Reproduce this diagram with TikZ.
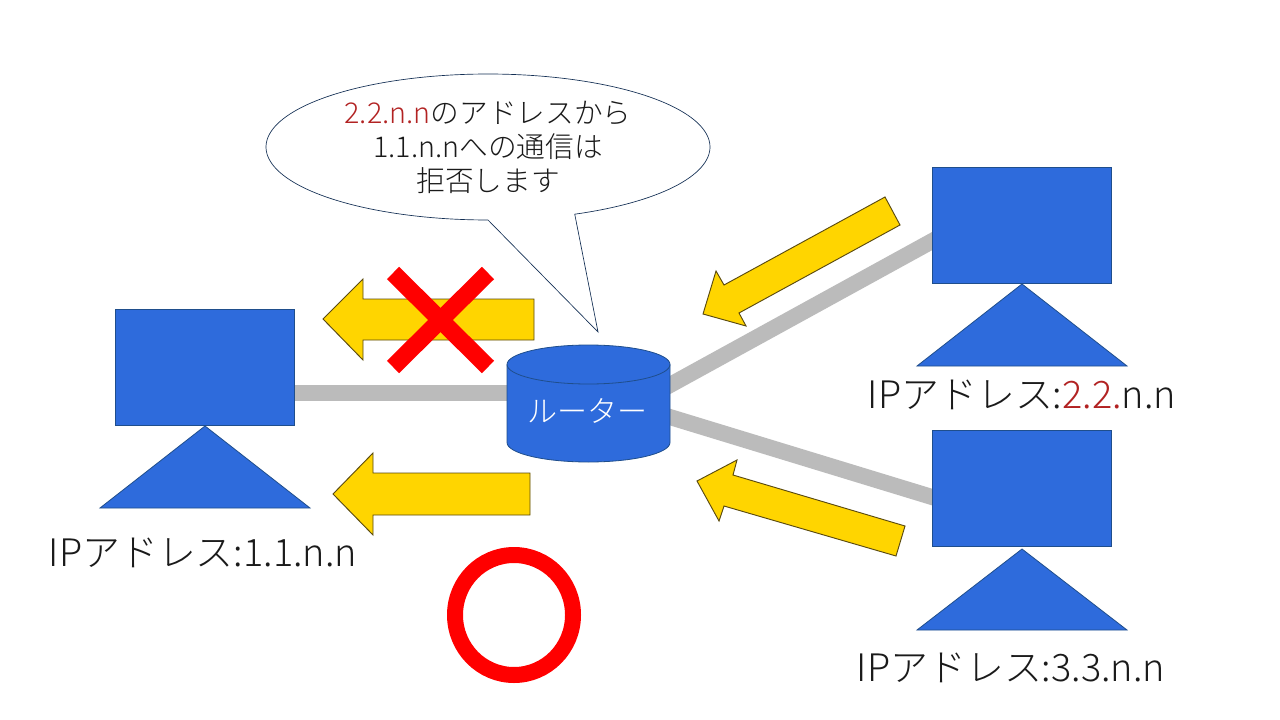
\documentclass[tikz,border=0pt]{standalone}
\usepackage{fontspec}
\setmainfont{Noto Sans CJK JP Light}
\usetikzlibrary{backgrounds}
\definecolor{blueS}{HTML}{2E6BDC}
\definecolor{blueE}{HTML}{1F4E8C}
\definecolor{yel}{HTML}{FFD500}
\definecolor{yelE}{HTML}{5A4A10}
\definecolor{wire}{HTML}{BBBBBB}
\definecolor{darkred}{HTML}{B22222}
\definecolor{txt}{HTML}{1A1A1A}
\tikzset{
  x=0.75pt,y=-0.75pt,
  screen/.style={draw=blueE,fill=blueS,line width=0.6pt,minimum width=134.5pt,minimum height=87.5pt,inner sep=0pt,outer sep=0pt},
  stand/.style={draw=blueE,fill=blueS,line width=0.6pt,line join=miter},
  wirel/.style={draw=wire,line width=12pt},
  arrowy/.style={draw=yelE,fill=yel,line width=0.7pt},
  cross/.style={draw=red,line width=13pt},
  lab/.style={text=txt,font=\fontsize{28.4pt}{32pt}\selectfont,inner sep=0pt,anchor=center},
  bub/.style={text=txt,font=\fontsize{21.5pt}{25.5pt}\selectfont,inner sep=0pt,align=center},
}
\begin{document}
\begin{tikzpicture}
\useasboundingbox (0,0) rectangle (1280,720);
% screens
\node[screen] (s1) at (205,367.5) {};
\node[screen] (s2) at (1022,225.5) {};
\node[screen] (s3) at (1022,488.5) {};
% stands
\draw[stand] (205,426) -- (310,508) -- (100,508) -- cycle;
\draw[stand] (1022,284) -- (1127,366) -- (917,366) -- cycle;
\draw[stand] (1022,549) -- (1127,630) -- (917,630) -- cycle;
% router
\path[draw=blueE,fill=blueS,line width=0.6pt] (507,364.5) -- (507,442.5)
  .. controls (507,453.3) and (543.5,462) .. (588.5,462)
  .. controls (633.5,462) and (670,453.3) .. (670,442.5) -- (670,364.5)
  .. controls (670,353.7) and (633.5,345) .. (588.5,345)
  .. controls (543.5,345) and (507,353.7) .. (507,364.5) -- cycle;
\path[draw=blueE,line width=0.6pt] (507,364.5)
  .. controls (507,375.3) and (543.5,384) .. (588.5,384)
  .. controls (633.5,384) and (670,375.3) .. (670,364.5);
\node[text=white,font=\fontsize{22.5pt}{24pt}\selectfont,inner sep=0pt] (router) at (587,411) {ルーター};
% connector ends
\coordinate (r1) at (515,393);
\coordinate (r2) at (660,390.5);
\coordinate (r3) at (660,414);
\coordinate (a1) at (285,393);
\coordinate (a2) at (945,234);
\coordinate (a3) at (945,501);
\begin{scope}[on background layer]
\fill[white] (0,0) rectangle (1280,720);
\draw[wirel] (a1) -- (r1);
\draw[wirel] (a2) -- (r2);
\draw[wirel] (a3) -- (r3);
\end{scope}
% arrows
\draw[arrowy] (323,319) -- (363,279) -- (363,299) -- (534,299) -- (534,340) -- (363,340) -- (363,360) -- cycle;
\draw[arrowy] (333,494) -- (373,453) -- (373,473) -- (530,473) -- (530,515) -- (373,515) -- (373,535) -- cycle;
\draw[arrowy] (703,314) -- (716,271) -- (724,285) -- (885,197) -- (900,225) -- (739,313) -- (746,326) -- cycle;
\draw[arrowy] (697,481) -- (737,460) -- (733,475) -- (905,526) -- (896,556) -- (724,506) -- (719,521) -- cycle;
% cross and circle
\draw[cross] (393,273) -- (488,367);
\draw[cross] (488,273) -- (393,367);
\draw[draw=red,line width=12pt] (514,615) ellipse [x radius=59,y radius=-60];
% bubble
\draw[draw=blueE!60!black,fill=white,line width=0.5pt] plot[domain=67:-270,samples=160] ({488+222*cos(\x)},{147+73*sin(\x)}) -- (598,332) -- cycle;
\node[bub] (bt) at (488,147) {\textcolor{darkred}{2.2.n.n}のアドレスから\\1.1.n.nへの通信は\\拒否します};
% labels
\node[lab] (l1) at (203,553) {IPアドレス:1.1.n.n};
\node[lab] (l2) at (1022,395) {IPアドレス:\textcolor{darkred}{2.2.}n.n};
\node[lab] (l3) at (1011,668) {IPアドレス:3.3.n.n};
\end{tikzpicture}
\end{document}
